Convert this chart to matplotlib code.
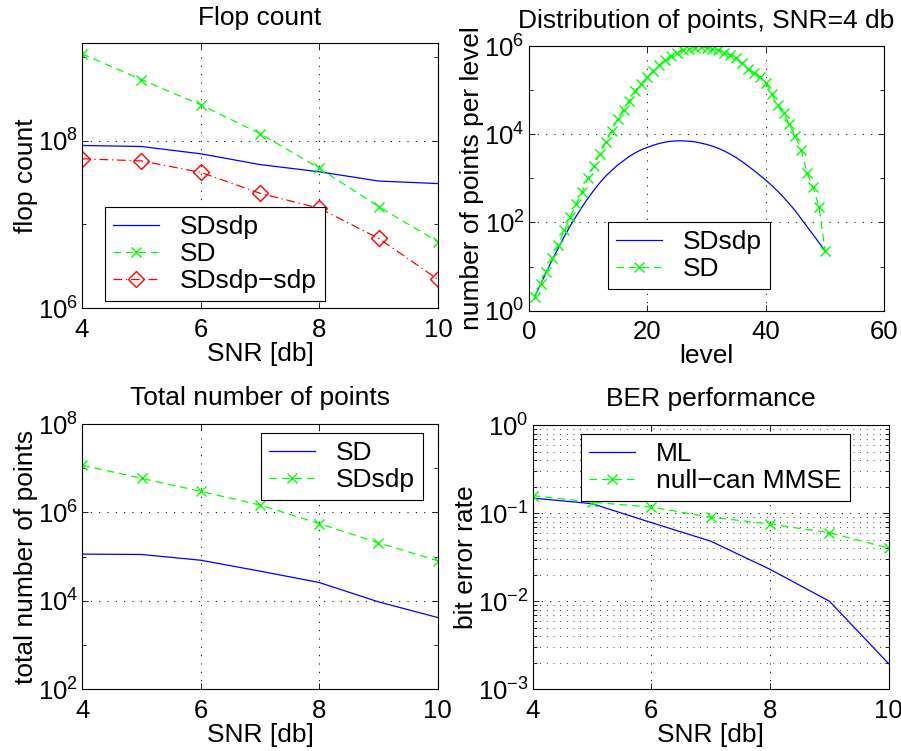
import matplotlib
matplotlib.use("Agg")
import matplotlib.pyplot as plt
from matplotlib.ticker import LogLocator, NullFormatter

plt.rcParams["font.family"] = ["Liberation Sans", "DejaVu Sans"]
plt.rcParams["mathtext.default"] = "regular"

# --- data ---
snr = [4, 5, 6, 7, 8, 9, 10]

# Flop count
flop_sdsdp = [8.8e7, 8.55e7, 7.0e7, 5.2e7, 4.26e7, 3.3e7, 3.08e7]
flop_sd = [1.1e9, 5.4e8, 2.7e8, 1.22e8, 4.7e7, 1.63e7, 6.2e6]
flop_sdsdp_sdp = [6.1e7, 5.75e7, 4.2e7, 2.36e7, 1.56e7, 6.8e6, 2.2e6]

# Distribution of points per level, SNR = 4 dB (log10 values)
levels = list(range(1, 51))
dist_sd_log = [0.32, 0.60, 0.88, 1.20, 1.48, 1.82, 2.12, 2.42, 2.70, 3.00,
               3.28, 3.56, 3.82, 4.08, 4.34, 4.56, 4.76, 4.98, 5.14, 5.30,
               5.44, 5.56, 5.68, 5.78, 5.84, 5.90, 5.94, 5.96, 5.98, 5.96,
               5.94, 5.90, 5.84, 5.80, 5.72, 5.62, 5.47, 5.38, 5.29, 5.17,
               4.91, 4.66, 4.47, 4.23, 3.95, 3.64, 3.11, 2.80, 2.34, 1.36]
dist_sdsdp_log = [0.32, 0.60, 0.88, 1.16, 1.42, 1.68, 1.92, 2.14, 2.35, 2.55,
                  2.73, 2.90, 3.05, 3.18, 3.30, 3.40, 3.50, 3.58, 3.65, 3.70,
                  3.75, 3.79, 3.82, 3.84, 3.85, 3.85, 3.84, 3.83, 3.80, 3.77,
                  3.73, 3.68, 3.62, 3.55, 3.47, 3.38, 3.28, 3.18, 3.07, 2.96,
                  2.84, 2.71, 2.57, 2.42, 2.26, 2.08, 1.90, 1.72, 1.54, 1.36]

# Total number of points
tot_sd = [1.14e5, 1.12e5, 8.3e4, 4.7e4, 2.6e4, 9.5e3, 4.2e3]
tot_sdsdp = [1.17e7, 5.9e6, 3.0e6, 1.47e6, 5.6e5, 2.05e5, 8.1e4]

# BER performance
ber_ml = [0.148, 0.128, 0.078, 0.048, 0.023, 0.0100, 0.00195]
ber_mmse = [0.158, 0.133, 0.117, 0.090, 0.075, 0.060, 0.040]

W, H = 901, 751
fig = plt.figure(figsize=(W / 100, H / 100), dpi=100)


def add_ax(left, right, top, bottom):
    return fig.add_axes([left / W, 1 - bottom / H, (right - left) / W, (bottom - top) / H])


grid_ls = (0, (1, 7))
fs_tick = 18.5
fs_text = 19


def style(ax):
    ax.tick_params(direction="in", top=True, right=True, which="both",
                   labelsize=fs_tick, length=4, width=0.6, pad=3)
    ax.tick_params(axis="x", pad=7)
    ax.tick_params(which="minor", length=3)
    for s in ax.spines.values():
        s.set_linewidth(0.8)
    ax.yaxis.set_minor_formatter(NullFormatter())


def legend(ax, x0, y0):
    leg = ax.legend(loc="upper left", bbox_to_anchor=(x0 / W, 1 - y0 / H),
                    bbox_transform=fig.transFigure, borderaxespad=0,
                    fontsize=fs_text, fancybox=False, framealpha=1,
                    edgecolor="k", handlelength=1.75, handletextpad=0.8,
                    labelspacing=0.12, borderpad=0.3)
    leg.get_frame().set_linewidth(0.8)
    return leg


# ---- Flop count ----
ax1 = add_ax(82, 438, 43, 308)
ax1.semilogy(snr, flop_sdsdp, "-", color="b", lw=0.9, label="SDsdp")
ax1.semilogy(snr, flop_sd, color="#00ff00", ls=(0, (6, 4)), lw=0.9, marker="x",
             ms=7, mew=1, label="SD")
ax1.semilogy(snr, flop_sdsdp_sdp, color="r", ls=(0, (7, 3, 1, 3)), lw=0.9,
             marker="D", ms=8.5, mfc="none", mew=1, label="SDsdp\u2212sdp")
ax1.set_xlim(4, 10)
ax1.set_ylim(1e6, 1.48e9)
ax1.set_xticks([4, 6, 8, 10])
ax1.set_yticks([1e6, 1e8])
ax1.set_yticks([1e7, 1e9], minor=True)
ax1.grid(True, which="major", ls=grid_ls, color="k", lw=0.75)
ax1.set_title("Flop count", fontsize=fs_text, pad=13)
ax1.set_xlabel("SNR [db]", fontsize=fs_text, labelpad=0)
ax1.set_ylabel("flop count", fontsize=fs_text, labelpad=0)
style(ax1)
legend(ax1, 105, 207)

# ---- Distribution of points ----
ax2 = add_ax(528.7, 884.3, 46, 310.7)
ax2.semilogy(levels, [10 ** v for v in dist_sdsdp_log], "-", color="b", lw=0.9, label="SDsdp")
ax2.semilogy(levels, [10 ** v for v in dist_sd_log], color="#00ff00", ls=(0, (6, 4)),
             lw=0.9, marker="x", ms=7, mew=1, label="SD")
ax2.set_xlim(0, 60)
ax2.set_ylim(1, 1e6)
ax2.set_xticks([0, 20, 40, 60])
ax2.set_yticks([1, 1e2, 1e4, 1e6])
ax2.set_yticks([1e1, 1e3, 1e5], minor=True)
ax2.grid(True, which="major", ls=grid_ls, color="k", lw=0.75)
ax2.set_title("Distribution of points, SNR=4 db", fontsize=fs_text, pad=13)
ax2.set_xlabel("level", fontsize=fs_text, labelpad=0)
ax2.set_ylabel("number of points per level", fontsize=fs_text, labelpad=0)
style(ax2)
legend(ax2, 608, 222)

# ---- Total number of points ----
ax3 = add_ax(82.3, 437.7, 424, 689.3)
ax3.semilogy(snr, tot_sd, "-", color="b", lw=0.9, label="SD")
ax3.semilogy(snr, tot_sdsdp, color="#00ff00", ls=(0, (6, 4)), lw=0.9, marker="x",
             ms=7, mew=1, label="SDsdp")
ax3.set_xlim(4, 10)
ax3.set_ylim(1e2, 1e8)
ax3.set_xticks([4, 6, 8, 10])
ax3.set_yticks([1e2, 1e4, 1e6, 1e8])
ax3.set_yticks([1e3, 1e5, 1e7], minor=True)
ax3.grid(True, which="major", ls=grid_ls, color="k", lw=0.75)
ax3.set_title("Total number of points", fontsize=fs_text, pad=14)
ax3.set_xlabel("SNR [db]", fontsize=fs_text, labelpad=0)
ax3.set_ylabel("total number of points", fontsize=fs_text, labelpad=0)
style(ax3)
legend(ax3, 261, 433)

# ---- BER performance ----
ax4 = add_ax(532.7, 888.7, 425, 689.3)
ax4.semilogy(snr, ber_ml, "-", color="b", lw=0.9, label="ML")
ax4.semilogy(snr, ber_mmse, color="#00ff00", ls=(0, (6, 4)), lw=0.9, marker="x",
             ms=7, mew=1, label="null\u2212can MMSE")
ax4.set_xlim(4, 10)
ax4.set_ylim(1e-3, 1)
ax4.set_xticks([4, 6, 8, 10])
ax4.set_yticks([1e-3, 1e-2, 1e-1, 1])
ax4.yaxis.set_minor_locator(LogLocator(base=10, subs=range(2, 10)))
ax4.grid(True, which="major", ls=grid_ls, color="k", lw=0.75)
ax4.grid(True, which="minor", axis="y", ls=grid_ls, color="k", lw=0.6)
ax4.set_title("BER performance", fontsize=fs_text, pad=14)
ax4.set_xlabel("SNR [db]", fontsize=fs_text, labelpad=0)
ax4.set_ylabel("bit error rate", fontsize=fs_text, labelpad=0)
style(ax4)
legend(ax4, 581, 434)

fig.savefig("out.png", dpi=100)
